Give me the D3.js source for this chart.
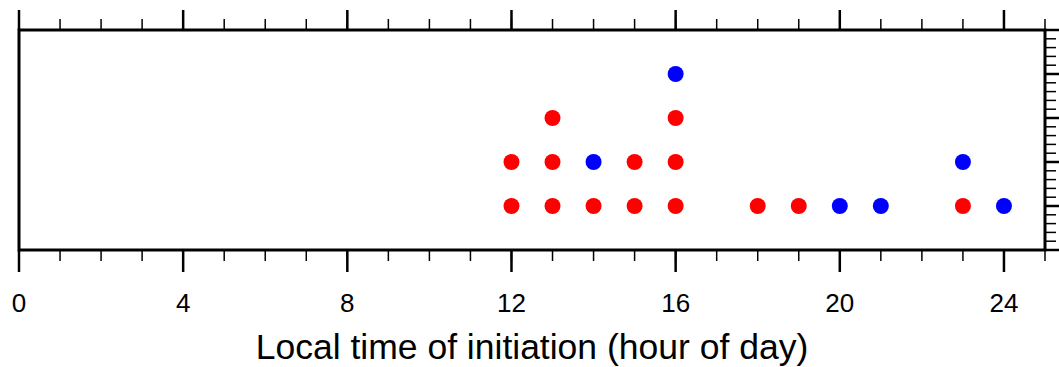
<!DOCTYPE html>
<html><head><meta charset="utf-8">
<script src="https://cdn.jsdelivr.net/npm/d3@7"></script>
<style>body{margin:0;background:#fff}svg{display:block}</style>
</head><body>
<svg id="c" width="1059" height="367"></svg>
<script>
// Data
const redHours = [12,12,13,13,13,14,15,15,16,16,16,18,19,23];
const blueHours = [14,16,20,21,23,24];
const xMajorTicks = [0,4,8,12,16,20,24];
const xMinorTicks = d3.range(0,26,1);
const yMajorTicks = [0,1,2,3,4,5];
const yMinorTicks = d3.range(0,5.01,0.2);
const xTitle = "Local time of initiation (hour of day)";

// Build stacked points: red first, then blue on top
const counts = {};
const points = [];
redHours.forEach(h => { counts[h] = (counts[h]||0)+1; points.push({h, n:counts[h], c:"#ff0000"}); });
blueHours.forEach(h => { counts[h] = (counts[h]||0)+1; points.push({h, n:counts[h], c:"#0000ff"}); });

const svg = d3.select("#c");
const L=19, R=1045, T=30, B=250;
const x = d3.scaleLinear().domain([0,25]).range([L,R]);
const y = d3.scaleLinear().domain([0,5]).range([B,T]);
const font = "'Liberation Sans', Arial, Helvetica, sans-serif";

// ticks
const g = svg.append("g");
// bottom
g.selectAll(".bmin").data(xMinorTicks).join("line")
  .attr("x1",d=>x(d)).attr("x2",d=>x(d)).attr("y1",B).attr("y2",B+11)
  .attr("stroke","#000").attr("stroke-width",1.5);
g.selectAll(".bmaj").data(xMajorTicks).join("line")
  .attr("x1",d=>x(d)).attr("x2",d=>x(d)).attr("y1",B).attr("y2",B+22)
  .attr("stroke","#000").attr("stroke-width",2.5);
// top
g.selectAll(".tmin").data(xMinorTicks).join("line")
  .attr("x1",d=>x(d)).attr("x2",d=>x(d)).attr("y1",T).attr("y2",T-11)
  .attr("stroke","#000").attr("stroke-width",1.5);
g.selectAll(".tmaj").data(xMajorTicks).join("line")
  .attr("x1",d=>x(d)).attr("x2",d=>x(d)).attr("y1",T).attr("y2",T-20)
  .attr("stroke","#000").attr("stroke-width",2.5);
// right
g.selectAll(".rmin").data(yMinorTicks).join("line")
  .attr("y1",d=>y(d)).attr("y2",d=>y(d)).attr("x1",R).attr("x2",R+11)
  .attr("stroke","#000").attr("stroke-width",1.5);
g.selectAll(".rmaj").data(yMajorTicks).join("line")
  .attr("y1",d=>y(d)).attr("y2",d=>y(d)).attr("x1",R).attr("x2",R+16)
  .attr("stroke","#000").attr("stroke-width",2.5);

// frame
svg.append("rect").attr("x",L).attr("y",T).attr("width",R-L).attr("height",B-T)
  .attr("fill","none").attr("stroke","#000").attr("stroke-width",3);

// tick labels
svg.selectAll(".xl").data(xMajorTicks).join("text")
  .attr("x",d=>x(d)).attr("y",312).attr("text-anchor","middle")
  .attr("font-family",font).attr("font-size",26).text(d=>d);

// title
svg.append("text").attr("x",(L+R)/2).attr("y",359).attr("text-anchor","middle")
  .attr("font-family",font).attr("font-size",35.5).text(xTitle);

// points
svg.selectAll(".pt").data(points).join("circle")
  .attr("cx",d=>x(d.h)).attr("cy",d=>y(d.n)).attr("r",8).attr("fill",d=>d.c);
</script>
</body></html>
